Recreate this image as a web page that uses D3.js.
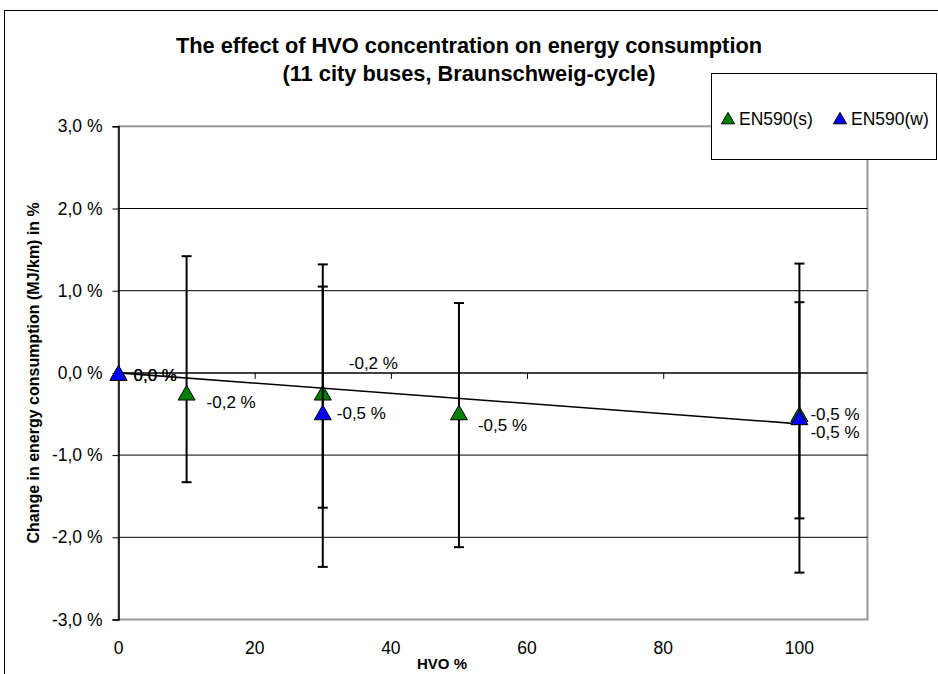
<!DOCTYPE html>
<html>
<head>
<meta charset="utf-8">
<script src="https://cdn.jsdelivr.net/npm/d3@7"></script>
<style>
  html, body { margin: 0; padding: 0; background: #fff; }
  svg { display: block; font-family: Arial, "Liberation Sans", sans-serif; }
</style>
</head>
<body>
<svg id="chart" width="938" height="674"></svg>
<script>
// ---------------- data ----------------
const titleLines = ["The effect of HVO concentration on energy consumption",
                    "(11 city buses, Braunschweig-cycle)"];
const xTicks = [0, 20, 40, 60, 80, 100];
const yTicks = [-3, -2, -1, 0, 1, 2, 3];
const xTitle = "HVO %";
const yTitle = "Change in energy consumption (MJ/km) in %";
const seriesNames = ["EN590(s)", "EN590(w)"];

// EN590(s) (green)
const sHVO   = [0, 10, 30, 50, 100];
const sValue = [0.0, -0.24, -0.24, -0.48, -0.50];
const sHigh  = [null, 1.42, 1.05, 0.85, 0.86];
const sLow   = [null, -1.33, -1.64, -2.12, -1.77];
const sLabel = ["0,0 %", "-0,2 %", "-0,2 %", "-0,5 %", "-0,5 %"];

// EN590(w) (blue)
const wHVO   = [0, 30, 100];
const wValue = [0.0, -0.48, -0.54];
const wHigh  = [null, 1.32, 1.33];
const wLow   = [null, -2.36, -2.43];
const wLabel = ["0,0 %", "-0,5 %", "-0,5 %"];

// linear trendline
const trendHVO = [0, 100];
const trendVal = [0.0, -0.62];

// ---------------- layout / style ----------------
const colors = ["#008000", "#0000FF"];
// label offsets (px) from the marker, as placed in the original chart
const sLabelOff = [[15, 2], [20, 9], [26, -30], [19, 13], [11, 18]];
const wLabelOff = [[15, 2], [14, 1], [11, -3]];

const svg = d3.select("#chart");
const plot = { left: 118.5, right: 867.5, top: 126.3, bottom: 619.5 };

const x = d3.scaleLinear().domain([0, 110]).range([plot.left, plot.right]);
const y = d3.scaleLinear().domain([-3, 3]).range([plot.bottom, plot.top]);

// outer chart border
svg.append("rect").attr("x", 4.5).attr("y", 10.5).attr("width", 960).attr("height", 700)
  .attr("fill", "#fff").attr("stroke", "#000").attr("stroke-width", 1);

// plot area border (grey)
svg.append("rect").attr("x", plot.left).attr("y", plot.top)
  .attr("width", plot.right - plot.left).attr("height", plot.bottom - plot.top)
  .attr("fill", "#fff").attr("stroke", "#999").attr("stroke-width", 2);

// gridlines
svg.append("g").selectAll("line").data(yTicks.filter(d => d !== 3 && d !== -3 && d !== 0))
  .join("line")
  .attr("x1", plot.left).attr("x2", plot.right)
  .attr("y1", d => y(d)).attr("y2", d => y(d))
  .attr("stroke", "#000").attr("stroke-width", 1);

// y axis
const yAxis = d3.axisLeft(y).tickValues(yTicks).tickSize(6).tickPadding(10)
  .tickFormat(d => d3.format(".1f")(d).replace(".", ",").replace("−", "-") + " %");
const gy = svg.append("g").attr("transform", `translate(${plot.left},0)`).call(yAxis);
gy.select(".domain").attr("stroke", "#000").attr("stroke-width", 1.5);
gy.selectAll(".tick line").attr("stroke", "#000");
gy.selectAll(".tick text").attr("font-size", 17.5).attr("fill", "#000")
  .attr("font-family", "Arial, 'Liberation Sans', sans-serif");

// x axis line at y = 0 with ticks crossing downward
const xAxis = d3.axisBottom(x).tickValues(xTicks).tickSize(6).tickFormat("");
const gx = svg.append("g").attr("transform", `translate(0,${y(0)})`).call(xAxis);
gx.select(".domain").attr("stroke", "#000").attr("stroke-width", 1.5)
  .attr("d", `M${plot.left},0H${plot.right}`);
gx.selectAll(".tick line").attr("stroke", "#000");

// x tick labels at bottom
svg.append("g").selectAll("text").data(xTicks).join("text")
  .attr("x", d => x(d)).attr("y", plot.bottom + 34)
  .attr("text-anchor", "middle").attr("font-size", 17.5).text(d => d);

// axis titles
svg.append("text").attr("x", 442).attr("y", 669).attr("text-anchor", "middle")
  .attr("font-size", 15).attr("font-weight", "bold").text(xTitle);
svg.append("text")
  .attr("transform", `translate(39,${(plot.top + plot.bottom) / 2}) rotate(-90)`)
  .attr("text-anchor", "middle").attr("font-size", 16).attr("font-weight", "bold").text(yTitle);

// title
svg.append("g").selectAll("text").data(titleLines).join("text")
  .attr("x", 469).attr("y", (d, i) => 53 + i * 28)
  .attr("text-anchor", "middle").attr("font-size", 21.8).attr("font-weight", "bold").text(d => d);

// trendline
svg.append("path")
  .attr("d", d3.line().x(d => x(d[0])).y(d => y(d[1]))(trendHVO.map((h, i) => [h, trendVal[i]])))
  .attr("stroke", "#000").attr("stroke-width", 1.6).attr("fill", "none");

// series
const series = [
  { hvo: sHVO, val: sValue, hi: sHigh, lo: sLow, lab: sLabel, off: sLabelOff, color: colors[0] },
  { hvo: wHVO, val: wValue, hi: wHigh, lo: wLow, lab: wLabel, off: wLabelOff, color: colors[1] }
];

const tri = d3.symbol().type(d3.symbolTriangle).size(125);

series.forEach(s => {
  const pts = s.hvo.map((h, i) => ({ h, v: s.val[i], hi: s.hi[i], lo: s.lo[i], lab: s.lab[i], off: s.off[i] }));
  const g = svg.append("g");
  // error bars
  const eb = g.selectAll("g.eb").data(pts.filter(p => p.hi !== null)).join("g");
  eb.append("line").attr("x1", p => x(p.h)).attr("x2", p => x(p.h))
    .attr("y1", p => y(p.hi)).attr("y2", p => y(p.lo)).attr("stroke", "#000").attr("stroke-width", 2);
  eb.append("line").attr("x1", p => x(p.h) - 5).attr("x2", p => x(p.h) + 5)
    .attr("y1", p => y(p.hi)).attr("y2", p => y(p.hi)).attr("stroke", "#000").attr("stroke-width", 2);
  eb.append("line").attr("x1", p => x(p.h) - 5).attr("x2", p => x(p.h) + 5)
    .attr("y1", p => y(p.lo)).attr("y2", p => y(p.lo)).attr("stroke", "#000").attr("stroke-width", 2);
  s.pts = pts; s.g = g;
});

series.forEach(s => {
  s.g.selectAll("path.m").data(s.pts).join("path")
    .attr("transform", p => `translate(${x(p.h)},${y(p.v) + 2.5})`)
    .attr("d", tri).attr("fill", s.color).attr("stroke", "#000").attr("stroke-width", 1);
});

series.forEach(s => {
  s.g.selectAll("text.l").data(s.pts).join("text")
    .attr("x", p => x(p.h) + p.off[0]).attr("y", p => y(p.v) + p.off[1] + 6)
    .attr("font-size", 17).text(p => p.lab);
});

// legend
const lg = svg.append("g");
lg.append("rect").attr("x", 711.5).attr("y", 73.5).attr("width", 225).attr("height", 86)
  .attr("fill", "#fff").attr("stroke", "#000").attr("stroke-width", 1);
const legX = [728, 840];
seriesNames.forEach((n, i) => {
  lg.append("path").attr("transform", `translate(${legX[i]},${120})`)
    .attr("d", d3.symbol().type(d3.symbolTriangle).size(75)).attr("fill", colors[i])
    .attr("stroke", "#000").attr("stroke-width", 1);
  lg.append("text").attr("x", legX[i] + 11).attr("y", 125).attr("font-size", 17.5).text(n);
});
</script>
</body>
</html>
